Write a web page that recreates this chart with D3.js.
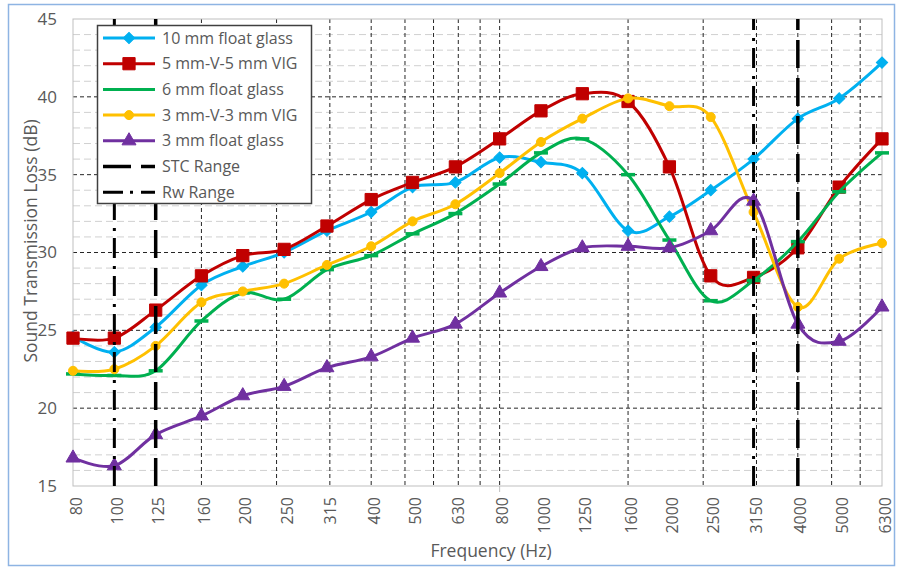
<!DOCTYPE html>
<html>
<head>
<meta charset="utf-8">
<script src="https://cdn.jsdelivr.net/npm/d3@7"></script>
<style>
  body { margin: 0; background: #fff; }
  text { font-family: "Open Sans", sans-serif; fill: #595959; }
</style>
</head>
<body>
<div id="chart"></div>
<script>
// data (1/3 octave bands, dB)
const freqs = [80, 100, 125, 160, 200, 250, 315, 400, 500, 630, 800, 1000, 1250, 1600, 2000, 2500, 3150, 4000, 5000, 6300];
const glass10 = [24.6, 23.6, 25.2, 27.9, 29.1, 30.0, 31.4, 32.6, 34.2, 34.5, 36.1, 35.8, 35.1, 31.4, 32.3, 34.0, 36.0, 38.6, 39.9, 42.2];
const vig5 = [24.5, 24.5, 26.3, 28.5, 29.8, 30.2, 31.7, 33.4, 34.5, 35.5, 37.3, 39.1, 40.2, 39.7, 35.5, 28.5, 28.4, 30.3, 34.2, 37.3];
const glass6 = [22.2, 22.1, 22.4, 25.6, 27.4, 27.0, 28.9, 29.8, 31.2, 32.5, 34.4, 36.4, 37.3, 35.0, 30.8, 26.9, 28.2, 30.7, 33.9, 36.4];
const vig3 = [22.4, 22.5, 24.0, 26.8, 27.5, 28.0, 29.2, 30.4, 32.0, 33.1, 35.1, 37.1, 38.6, 39.9, 39.4, 38.7, 32.6, 26.5, 29.6, 30.6];
const glass3 = [16.8, 16.3, 18.3, 19.5, 20.8, 21.4, 22.6, 23.3, 24.5, 25.4, 27.4, 29.1, 30.3, 30.4, 30.3, 31.4, 33.3, 25.4, 24.3, 26.5];
const stcRange = [125, 4000];
const rwRange = [100, 3150];
const yTicks = [15, 20, 25, 30, 35, 40, 45];
// vertical gridlines of the log axis (in band units)
const vGrid = [160, 240, 320, 400, 480, 560, 640, 720, 800, 1600, 2400, 3200, 4000, 4800, 5600];

let width = 898, height = 569;
let plot = {left: 73, right: 882, top: 19, bottom: 486};

const svg = d3.select("#chart").append("svg")
    .attr("width", width)
    .attr("height", height);

// chart area border
svg.append("rect")
    .attr("x", 8.5).attr("y", 4.5)
    .attr("width", 886).attr("height", 561)
    .attr("fill", "#fff")
    .attr("stroke", "#8eb4e3")
    .attr("stroke-width", 1.5);

let x = d3.scaleLog().domain([80, 6300]).range([plot.left, plot.right]);
let y = d3.scaleLinear().domain([15, 45]).range([plot.bottom, plot.top]);

// minor horizontal grid
svg.append("g").selectAll("line")
    .data(d3.range(16, 45).filter(v => v % 5 != 0))
    .join("line")
    .attr("x1", plot.left).attr("x2", plot.right)
    .attr("y1", d => y(d)).attr("y2", d => y(d))
    .attr("stroke", "#d0d0d0")
    .attr("stroke-dasharray", "7,4");

// major horizontal grid
svg.append("g").selectAll("line")
    .data(yTicks.slice(1, -1))
    .join("line")
    .attr("x1", plot.left).attr("x2", plot.right)
    .attr("y1", d => y(d)).attr("y2", d => y(d))
    .attr("stroke", "#262626")
    .attr("stroke-dasharray", "4,3");

// vertical grid
svg.append("g").selectAll("line")
    .data(vGrid)
    .join("line")
    .attr("x1", d => x(d)).attr("x2", d => x(d))
    .attr("y1", plot.top).attr("y2", plot.bottom)
    .attr("stroke", "#262626")
    .attr("stroke-dasharray", "4,3");

// plot area border
svg.append("rect")
    .attr("x", plot.left).attr("y", plot.top)
    .attr("width", plot.right - plot.left).attr("height", plot.bottom - plot.top)
    .attr("fill", "none")
    .attr("stroke", "#bfbfbf");

svg.append("line")
    .attr("x1", x(800)).attr("x2", x(800))
    .attr("y1", plot.bottom).attr("y2", plot.bottom + 6)
    .attr("stroke", "#bfbfbf");

// y tick labels
svg.append("g").selectAll("text")
    .data(yTicks)
    .join("text")
    .attr("x", 57)
    .attr("y", d => y(d))
    .attr("dy", "0.35em")
    .attr("text-anchor", "end")
    .style("font-size", "17px")
    .text(d => d);

// x tick labels (rotated)
svg.append("g").selectAll("text")
    .data(freqs)
    .join("text")
    .attr("transform", d => "translate(" + (x(d) + 3) + "," + (plot.bottom + 11) + ") rotate(-90)")
    .attr("dy", "0.35em")
    .attr("text-anchor", "end")
    .style("font-size", "16px")
    .text(d => d);

svg.append("text")
    .attr("transform", "translate(31,241) rotate(-90)")
    .attr("dy", "0.35em")
    .attr("text-anchor", "middle")
    .style("font-size", "17.5px")
    .text("Sound Transmission Loss (dB)");

svg.append("text")
    .attr("x", 491).attr("y", 557)
    .attr("text-anchor", "middle")
    .style("font-size", "17.5px")
    .text("Frequency (Hz)");

let series = [
    {name: "10 mm float glass", values: glass10, color: "#00B0F0", marker: "diamond"},
    {name: "5 mm-V-5 mm VIG", values: vig5, color: "#C00000", marker: "square"},
    {name: "6 mm float glass", values: glass6, color: "#00B050", marker: "dash"},
    {name: "3 mm-V-3 mm VIG", values: vig3, color: "#FFC000", marker: "circle"},
    {name: "3 mm float glass", values: glass3, color: "#7030A0", marker: "triangle"}
];

function drawMarker(g, type, color) {
    if (type == "dash") {
        g.append("rect").attr("x", -7).attr("y", -1.75).attr("width", 14).attr("height", 3.5).attr("fill", color);
        return;
    }
    let sym = {
        diamond: d3.symbol(d3.symbolSquare, 64),
        square: d3.symbol(d3.symbolSquare, 150),
        circle: d3.symbol(d3.symbolCircle, 64),
        triangle: d3.symbol(d3.symbolTriangle, 85)
    }[type];
    g.append("path")
        .attr("d", sym())
        .attr("transform", type == "diamond" ? "rotate(45)" : null)
        .attr("fill", color)
        .attr("stroke", color);
}

let line = d3.line()
    .x((d, i) => x(freqs[i]))
    .y(d => y(d))
    .curve(d3.curveCatmullRom.alpha(0));

series.forEach(s => {
    svg.append("path")
        .datum(s.values)
        .attr("fill", "none")
        .attr("stroke", s.color)
        .attr("stroke-width", 3)
        .attr("stroke-linejoin", "round")
        .attr("d", line);
    s.values.forEach((v, i) => {
        let g = svg.append("g").attr("transform", "translate(" + x(freqs[i]) + "," + y(v) + ")");
        drawMarker(g, s.marker, s.color);
    });
});

// STC and Rw range lines, drawn bottom to top
let ranges = [
    {name: "STC Range", values: stcRange, dash: "28,10", w: 3.5},
    {name: "Rw Range", values: rwRange, dash: "20,7,3,8", w: 3}
];
ranges.forEach(r => {
    svg.append("g").selectAll("line")
        .data(r.values)
        .join("line")
        .attr("x1", d => x(d)).attr("x2", d => x(d))
        .attr("y1", y(15)).attr("y2", y(45))
        .attr("stroke", "#000")
        .attr("stroke-width", r.w)
        .attr("stroke-dasharray", r.dash);
});

// legend
let legend = svg.append("g");
legend.append("rect")
    .attr("x", 97.5).attr("y", 25.5)
    .attr("width", 214).attr("height", 178)
    .attr("fill", "#fff")
    .attr("stroke", "#404040")
    .attr("stroke-width", 1.5);

let items = series.concat(ranges);
items.forEach((s, i) => {
    let ly = 38 + i * 25.7;
    legend.append("line")
        .attr("x1", 103).attr("x2", 155)
        .attr("y1", ly).attr("y2", ly)
        .attr("stroke", s.color || "#000")
        .attr("stroke-width", s.w || 3)
        .attr("stroke-dasharray", s.dash || null);
    if (s.marker && s.marker != "dash") {
        drawMarker(legend.append("g").attr("transform", "translate(129," + ly + ")"), s.marker, s.color);
    }
    legend.append("text")
        .attr("x", 162).attr("y", ly)
        .attr("dy", "0.35em")
        .style("font-size", "16px")
        .text(s.name);
});
</script>
</body>
</html>
